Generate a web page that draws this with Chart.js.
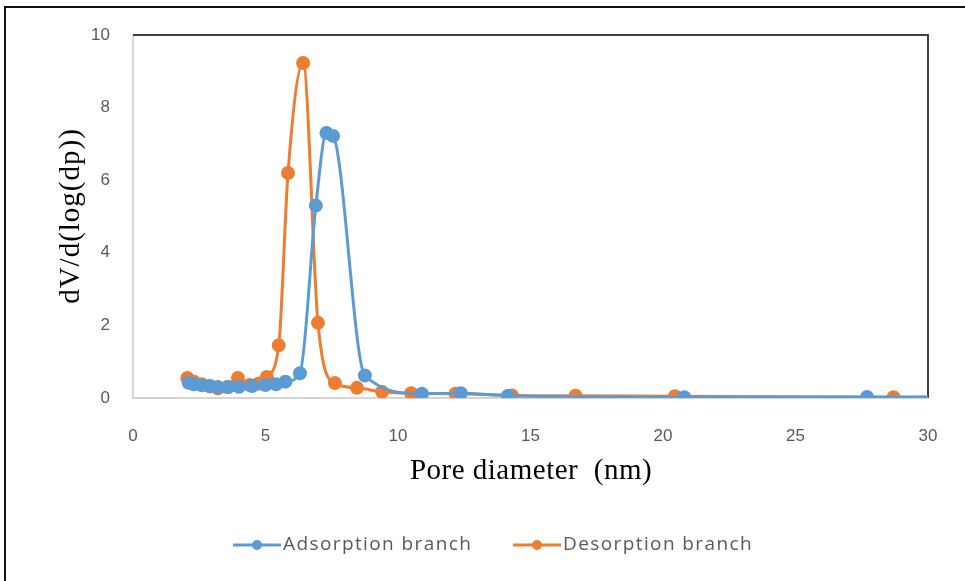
<!DOCTYPE html>
<html>
<head>
<meta charset="utf-8">
<script src="https://cdn.jsdelivr.net/npm/chart.js@4.4.1/dist/chart.umd.min.js"></script>
<style>
  html, body { margin: 0; padding: 0; background: #fff; }
  #wrap { width: 965px; height: 581px; position: relative; }
</style>
</head>
<body>
<div id="wrap"><canvas id="poreChart"></canvas></div>
<script>
// BJH pore size distribution, adsorption vs desorption branch
const adsDiameter = [2.1, 2.3, 2.6, 2.9, 3.2, 3.6, 4.0, 4.5, 5.0, 5.4, 5.75, 6.3, 6.9, 7.3, 7.55, 8.75, 10.9, 12.37, 14.15, 20.8, 27.7, 38];
const adsVolume   = [0.42, 0.38, 0.35, 0.33, 0.3, 0.3, 0.31, 0.33, 0.36, 0.38, 0.45, 0.68, 5.3, 7.3, 7.22, 0.62, 0.12, 0.13, 0.06, 0.02, 0.03, 0.02];

const desDiameter = [2.05, 2.3, 2.6, 2.9, 3.2, 3.55, 3.96, 4.4, 4.75, 5.05, 5.5, 5.85, 6.42, 6.98, 7.62, 8.45, 9.4, 10.5, 12.17, 14.3, 16.7, 20.45, 28.7, 40];
const desVolume   = [0.55, 0.45, 0.38, 0.32, 0.27, 0.3, 0.55, 0.36, 0.4, 0.58, 1.45, 6.2, 9.23, 2.07, 0.41, 0.28, 0.17, 0.13, 0.12, 0.07, 0.06, 0.05, 0.02, 0.01];

const xTicks = [0, 5, 10, 15, 20, 25, 30];
const yTicks = [0, 2, 4, 6, 8, 10];

const BLUE = '#5B9BD5';
const ORANGE = '#ED7D31';

function toPoints(xs, ys) {
  return xs.map((x, i) => ({ x: x, y: ys[i] }));
}

// frame, outer border, axis titles and the line+marker legend
const decorations = {
  id: 'decorations',
  beforeDatasetsDraw(chart) {
    const { ctx, chartArea: a } = chart;
    ctx.save();
    ctx.lineWidth = 1.5;
    ctx.strokeStyle = '#c8c8c8';
    ctx.beginPath();
    ctx.moveTo(a.left, a.top);
    ctx.lineTo(a.left, a.bottom);
    ctx.lineTo(a.right, a.bottom);
    ctx.stroke();
    ctx.lineWidth = 2;
    ctx.strokeStyle = '#404040';
    ctx.beginPath();
    ctx.moveTo(a.left, a.top);
    ctx.lineTo(a.right, a.top);
    ctx.lineTo(a.right, a.bottom);
    ctx.stroke();
    ctx.restore();
  },
  afterDraw(chart) {
    const { ctx } = chart;
    ctx.save();
    // outer border
    ctx.strokeStyle = '#111';
    ctx.lineWidth = 2;
    ctx.beginPath();
    ctx.moveTo(5, 581);
    ctx.lineTo(5, 7);
    ctx.lineTo(965, 7);
    ctx.stroke();

    // axis titles
    ctx.fillStyle = '#000';
    ctx.font = '29px "Liberation Serif", "Times New Roman", serif';
    ctx.letterSpacing = '0.5px';
    ctx.textAlign = 'center';
    ctx.textBaseline = 'middle';
    ctx.fillText('Pore diameter  (nm)', 531, 471);
    ctx.letterSpacing = '1px';
    ctx.translate(71, 216);
    ctx.rotate(-Math.PI / 2);
    ctx.fillText('dV/d(log(dp))', 0, 0);
    ctx.restore();

    // legend
    ctx.save();
    ctx.font = '19px "Open Sans", "Liberation Sans", sans-serif';
    ctx.letterSpacing = '1.4px';
    ctx.textBaseline = 'middle';
    ctx.textAlign = 'left';
    const items = [
      { x: 233, label: chart.data.datasets[0].label, color: BLUE },
      { x: 513, label: chart.data.datasets[1].label, color: ORANGE }
    ];
    const ly = 545;
    items.forEach(it => {
      ctx.strokeStyle = it.color;
      ctx.lineWidth = 3;
      ctx.beginPath();
      ctx.moveTo(it.x, ly);
      ctx.lineTo(it.x + 48, ly);
      ctx.stroke();
      ctx.fillStyle = it.color;
      ctx.beginPath();
      ctx.arc(it.x + 24, ly, 5, 0, Math.PI * 2);
      ctx.fill();
      ctx.fillStyle = '#595959';
      ctx.fillText(it.label, it.x + 50, ly);
    });
    ctx.restore();
  }
};

const ctx = document.getElementById('poreChart').getContext('2d');
new Chart(ctx, {
  type: 'line',
  data: {
    datasets: [{
      label: 'Adsorption branch',
      data: toPoints(adsDiameter, adsVolume),
      borderColor: BLUE,
      backgroundColor: BLUE,
      borderWidth: 3,
      pointRadius: 5.5,
      pointHoverRadius: 5.5,
      tension: 0.4,
      cubicInterpolationMode: 'monotone'
    }, {
      label: 'Desorption branch',
      data: toPoints(desDiameter, desVolume),
      borderColor: ORANGE,
      backgroundColor: ORANGE,
      borderWidth: 3,
      pointRadius: 5.5,
      pointHoverRadius: 5.5,
      tension: 0.4,
      cubicInterpolationMode: 'monotone'
    }]
  },
  options: {
    responsive: true,
    maintainAspectRatio: false,
    animation: false,
    layout: { padding: { top: 35, right: 37, bottom: 83, left: 0 } },
    plugins: {
      legend: { display: false },
      tooltip: { enabled: false }
    },
    scales: {
      x: {
        type: 'linear',
        min: 0,
        max: 30,
        border: { display: false },
        grid: { display: false },
        afterBuildTicks: s => { s.ticks = xTicks.map(v => ({ value: v })); },
        afterFit: s => { s.height = 100; },
        ticks: {
          padding: 20,
          color: '#595959',
          font: { family: '"Liberation Sans", Arial, sans-serif', size: 17 }
        }
      },
      y: {
        min: 0,
        max: 10,
        border: { display: false },
        grid: { display: false },
        afterBuildTicks: s => { s.ticks = yTicks.map(v => ({ value: v })); },
        afterFit: s => { s.width = 133; },
        ticks: {
          padding: 15,
          color: '#595959',
          font: { family: '"Liberation Sans", Arial, sans-serif', size: 17 }
        }
      }
    }
  },
  plugins: [decorations]
});
</script>
</body>
</html>
